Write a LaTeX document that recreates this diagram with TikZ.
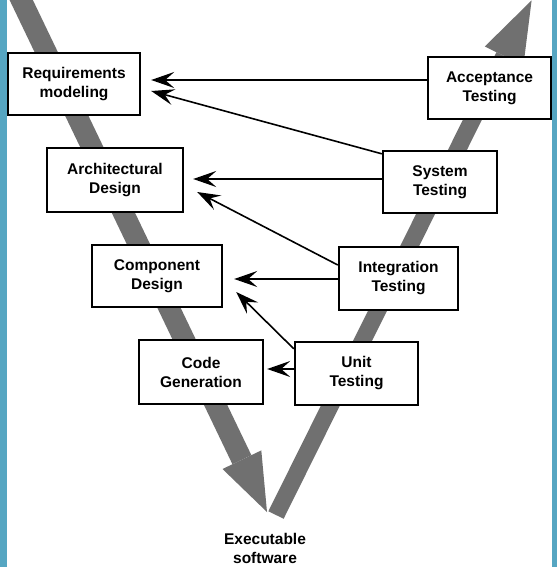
\documentclass[tikz,border=0pt]{standalone}
\usepackage{fontspec}
\setmainfont{Liberation Sans}
\usetikzlibrary{arrows.meta}
\definecolor{bluebar}{RGB}{86,166,194}
\definecolor{vgray}{RGB}{112,112,112}
\tikzset{
  stagebox/.style={draw=black, line width=2.4pt, fill=white, align=center,
    font=\fontsize{15.5}{19}\selectfont\bfseries, inner sep=0pt},
  flow/.style={draw=black, line width=1.6pt, -{Stealth[length=23pt,width=16pt,inset=9pt]}},
  bigshaft/.style={draw=vgray, line cap=butt},
}
\begin{document}
\begin{tikzpicture}[x=1pt,y=1pt]
\useasboundingbox (0,0) rectangle (557,-567);
\fill[white] (0,0) rectangle (557,-567);
\begin{scope}
\clip (0,0) rectangle (557,-567);
% left gray arrow (downward)
\coordinate (lS) at (15.2,12.5);
\coordinate (lB) at (241.9,-459.7);
\coordinate (lT) at (267,-512);
\coordinate (lb1) at (261.3,-450.4);
\coordinate (lb2) at (222.5,-469.0);
\draw[bigshaft, line width=21pt] (lS) -- (lB);
\fill[vgray] (lb1) -- (lT) -- (lb2) -- cycle;
% right gray arrow (upward)
\coordinate (rS) at (276,-515);
\coordinate (rB) at (504.1,-56);
\coordinate (rT) at (531.6,-0.4);
\coordinate (rb1) at (523.4,-65.5);
\coordinate (rb2) at (484.8,-46.5);
\draw[bigshaft, line width=17pt] (rS) -- (rB);
\fill[vgray] (rb1) -- (rT) -- (rb2) -- cycle;
\end{scope}
% blue side bars
\fill[bluebar] (0,0) rectangle (7,-567);
\fill[bluebar] (552,0) rectangle (557,-567);
% boxes
\node[stagebox, minimum width=132pt, minimum height=62pt] (req) at (74,-84) {Requirements\\modeling};
\node[stagebox, minimum width=123pt, minimum height=62pt] (acc) at (489.5,-88) {Acceptance\\Testing};
\node[stagebox, minimum width=136pt, minimum height=64pt] (arch) at (115,-180) {Architectural\\Design};
\node[stagebox, minimum width=114pt, minimum height=62pt] (sys) at (440,-182) {System\\Testing};
\node[stagebox, minimum width=130pt, minimum height=62pt] (comp) at (157,-276) {Component\\Design};
\node[stagebox, minimum width=119pt, minimum height=63pt] (integ) at (398.5,-278.5) {Integration\\Testing};
\node[stagebox, minimum width=124pt, minimum height=64pt] (code) at (201,-372) {Code\\Generation};
\node[stagebox, minimum width=123pt, minimum height=63pt] (unit) at (356.5,-373.5) {Unit\\Testing};
\node[font=\fontsize{15.5}{19}\selectfont\bfseries, align=center] (exe) at (265,-548) {Executable\\software};
% connectors
\draw[flow] ([shift={(0,8)}]acc.west) -- ([shift={(10,4)}]req.east);
\draw[flow] ([shift={(0,-4)}]sys.north west) -- ([shift={(10,-7)}]req.east);
\draw[flow] ([shift={(0,3)}]sys.west) -- ([shift={(9,1)}]arch.east);
\draw[flow] ([shift={(0,13.5)}]integ.west) -- ([shift={(13,-12)}]arch.east);
\draw[flow] ([shift={(0,-0.5)}]integ.west) -- ([shift={(11,-3)}]comp.east);
\draw[flow] ([shift={(0,-8)}]unit.north west) -- ([shift={(13,-16)}]comp.east);
\draw[flow] ([shift={(0,4.5)}]unit.west) -- ([shift={(3,3)}]code.east);
\end{tikzpicture}
\end{document}
